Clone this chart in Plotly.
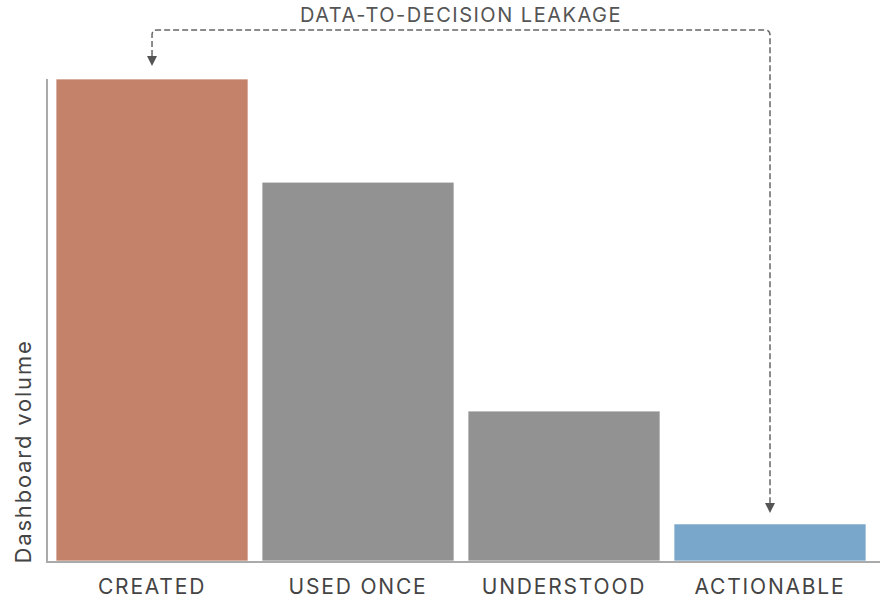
import plotly.graph_objects as go

categories = ["CREATED", "USED ONCE", "UNDERSTOOD", "ACTIONABLE"]
values = [100, 78.6, 31.1, 7.7]
colors = ["#C4826B", "#929292", "#929292", "#79A7CB"]
title_text = "DATA-TO-DECISION LEAKAGE"
y_title = "Dashboard volume"

FONT = "Inter"
x_range = [-0.505, 3.534]
y_max = 100

fig = go.Figure()
fig.add_trace(go.Bar(
    x=categories, y=values,
    marker=dict(color=colors, line=dict(color="rgba(255,255,255,0.7)", width=1)),
    hoverinfo="skip",
))

L, R, T, B = 48, 0, 79, 43
W, H = 880, 604
pw, ph = W - L - R, H - T - B

def xp(i):
    return (i - x_range[0]) / (x_range[1] - x_range[0])

def yp(v):
    return v / y_max

px_x = 1.0 / pw
px_y = 1.0 / ph

x0, x1 = xp(0), xp(len(categories) - 1)
top = yp(max(values)) + 49 * px_y
rad_x, rad_y = 5 * px_x, 5 * px_y
left_end = yp(values[0]) + 23 * px_y
right_end = yp(values[-1]) + 21 * px_y
path = (f"M{x0},{left_end} L{x0},{top - rad_y} Q{x0},{top} {x0 + rad_x},{top} "
        f"L{x1 - rad_x},{top} Q{x1},{top} {x1},{top - rad_y} L{x1},{right_end}")
fig.add_shape(type="path", path=path, xref="paper", yref="paper",
              line=dict(color="#666666", width=1.5, dash="6px,3px"))

def arrow(xc, ytip):
    hw, hh = 5 * px_x, 10 * px_y
    return f"M{xc - hw},{ytip + hh} L{xc + hw},{ytip + hh} L{xc},{ytip} Z"

fig.add_shape(type="path", path=arrow(x0, yp(values[0]) + 13 * px_y), xref="paper", yref="paper",
              fillcolor="#555555", line=dict(width=0))
fig.add_shape(type="path", path=arrow(x1, yp(values[-1]) + 11 * px_y), xref="paper", yref="paper",
              fillcolor="#555555", line=dict(width=0))

fig.add_annotation(text=title_text, xref="paper", yref="paper",
                   x=(x0 + x1) / 2, y=top + 15 * px_y, xanchor="center", yanchor="middle",
                   showarrow=False, font=dict(family=FONT, size=20, color="#555555"))

fig.add_annotation(text=y_title, xref="paper", yref="paper", textangle=-90,
                   x=-40 * px_x, y=109 * px_y, xanchor="left", yanchor="middle",
                   showarrow=False, font=dict(family=FONT, size=22, color="#444444"))

fig.update_layout(
    width=W, height=H,
    margin=dict(l=L, r=R, t=T, b=B),
    plot_bgcolor="white", paper_bgcolor="white",
    bargap=0.068, showlegend=False,
    font=dict(family=FONT, color="#444444"),
    xaxis=dict(range=x_range, showline=True, linecolor="#AAAAAA", linewidth=2,
               ticks="", showgrid=False, zeroline=False, ticklabelstandoff=6,
               tickfont=dict(family=FONT, size=21, color="#444444")),
    yaxis=dict(range=[0, y_max], showline=True, linecolor="#AAAAAA", linewidth=2,
               showticklabels=False, ticks="", showgrid=False, zeroline=False),
)

post = """
document.body.style.margin = '0';
document.querySelectorAll('.xtick text').forEach(function(t){ t.style.letterSpacing = '1.8px'; });
document.querySelectorAll('.annotation-text').forEach(function(t){
  if (t.textContent === '""" + y_title + """') { t.style.letterSpacing = '1.8px'; }
  else { t.style.letterSpacing = '1.5px'; }
});
"""
fig.write_html("out.html", post_script=post, config={"displayModeBar": False})
